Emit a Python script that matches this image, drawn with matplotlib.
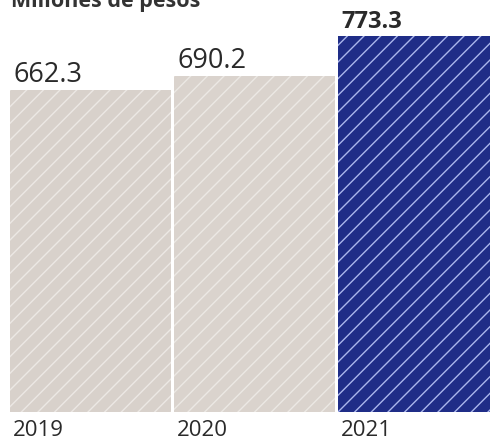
import matplotlib
matplotlib.use("Agg")
import matplotlib.pyplot as plt

years = ["2019", "2020", "2021"]
values = [662.3, 690.2, 773.3]
labels = ["662.3", "690.2", "773.3"]
bold = [False, False, True]
face_colors = ["#d8d1cb", "#dad3cd", "#1f2d87"]
hatch_colors = ["#ece8e4", "#ece8e4", "#aab6ec"]
title = "Millones de pesos"

plt.rcParams['hatch.linewidth'] = 1.0
fig = plt.figure(figsize=(4.9, 4.43), dpi=100)
ax = fig.add_axes([0, 31/443, 1, 412/443])
x = list(range(len(values)))
width = 0.98
for i, v in enumerate(values):
    ax.bar(x[i], v, width=width, color=face_colors[i], edgecolor=hatch_colors[i],
           linewidth=0, hatch='//')
ax.set_xlim(-0.552, 2.436)
ax.set_ylim(0, 847)
ax.axis('off')

fam = ['Open Sans', 'DejaVu Sans']
px = 72 / 100
for i, v in enumerate(values):
    left = x[i] - width / 2
    ax.annotate(labels[i], (left, v), xytext=(3 * px, 8 * px), textcoords='offset points',
                ha='left', va='baseline', fontsize=19.5 if not bold[i] else 17,
                fontweight='bold' if bold[i] else 'normal',
                color='#2a2a2a', family=fam)
    ax.annotate(years[i], (left, 0), xytext=(3 * px, -24 * px), textcoords='offset points',
                ha='left', va='baseline', fontsize=16, color='#2a2a2a', family=fam)

fig.text(11/490, 1 - 7/443, title, ha='left', va='baseline', fontsize=15.5,
         fontweight='bold', color='#333333', family=fam)

fig.savefig("out.png", dpi=100)
